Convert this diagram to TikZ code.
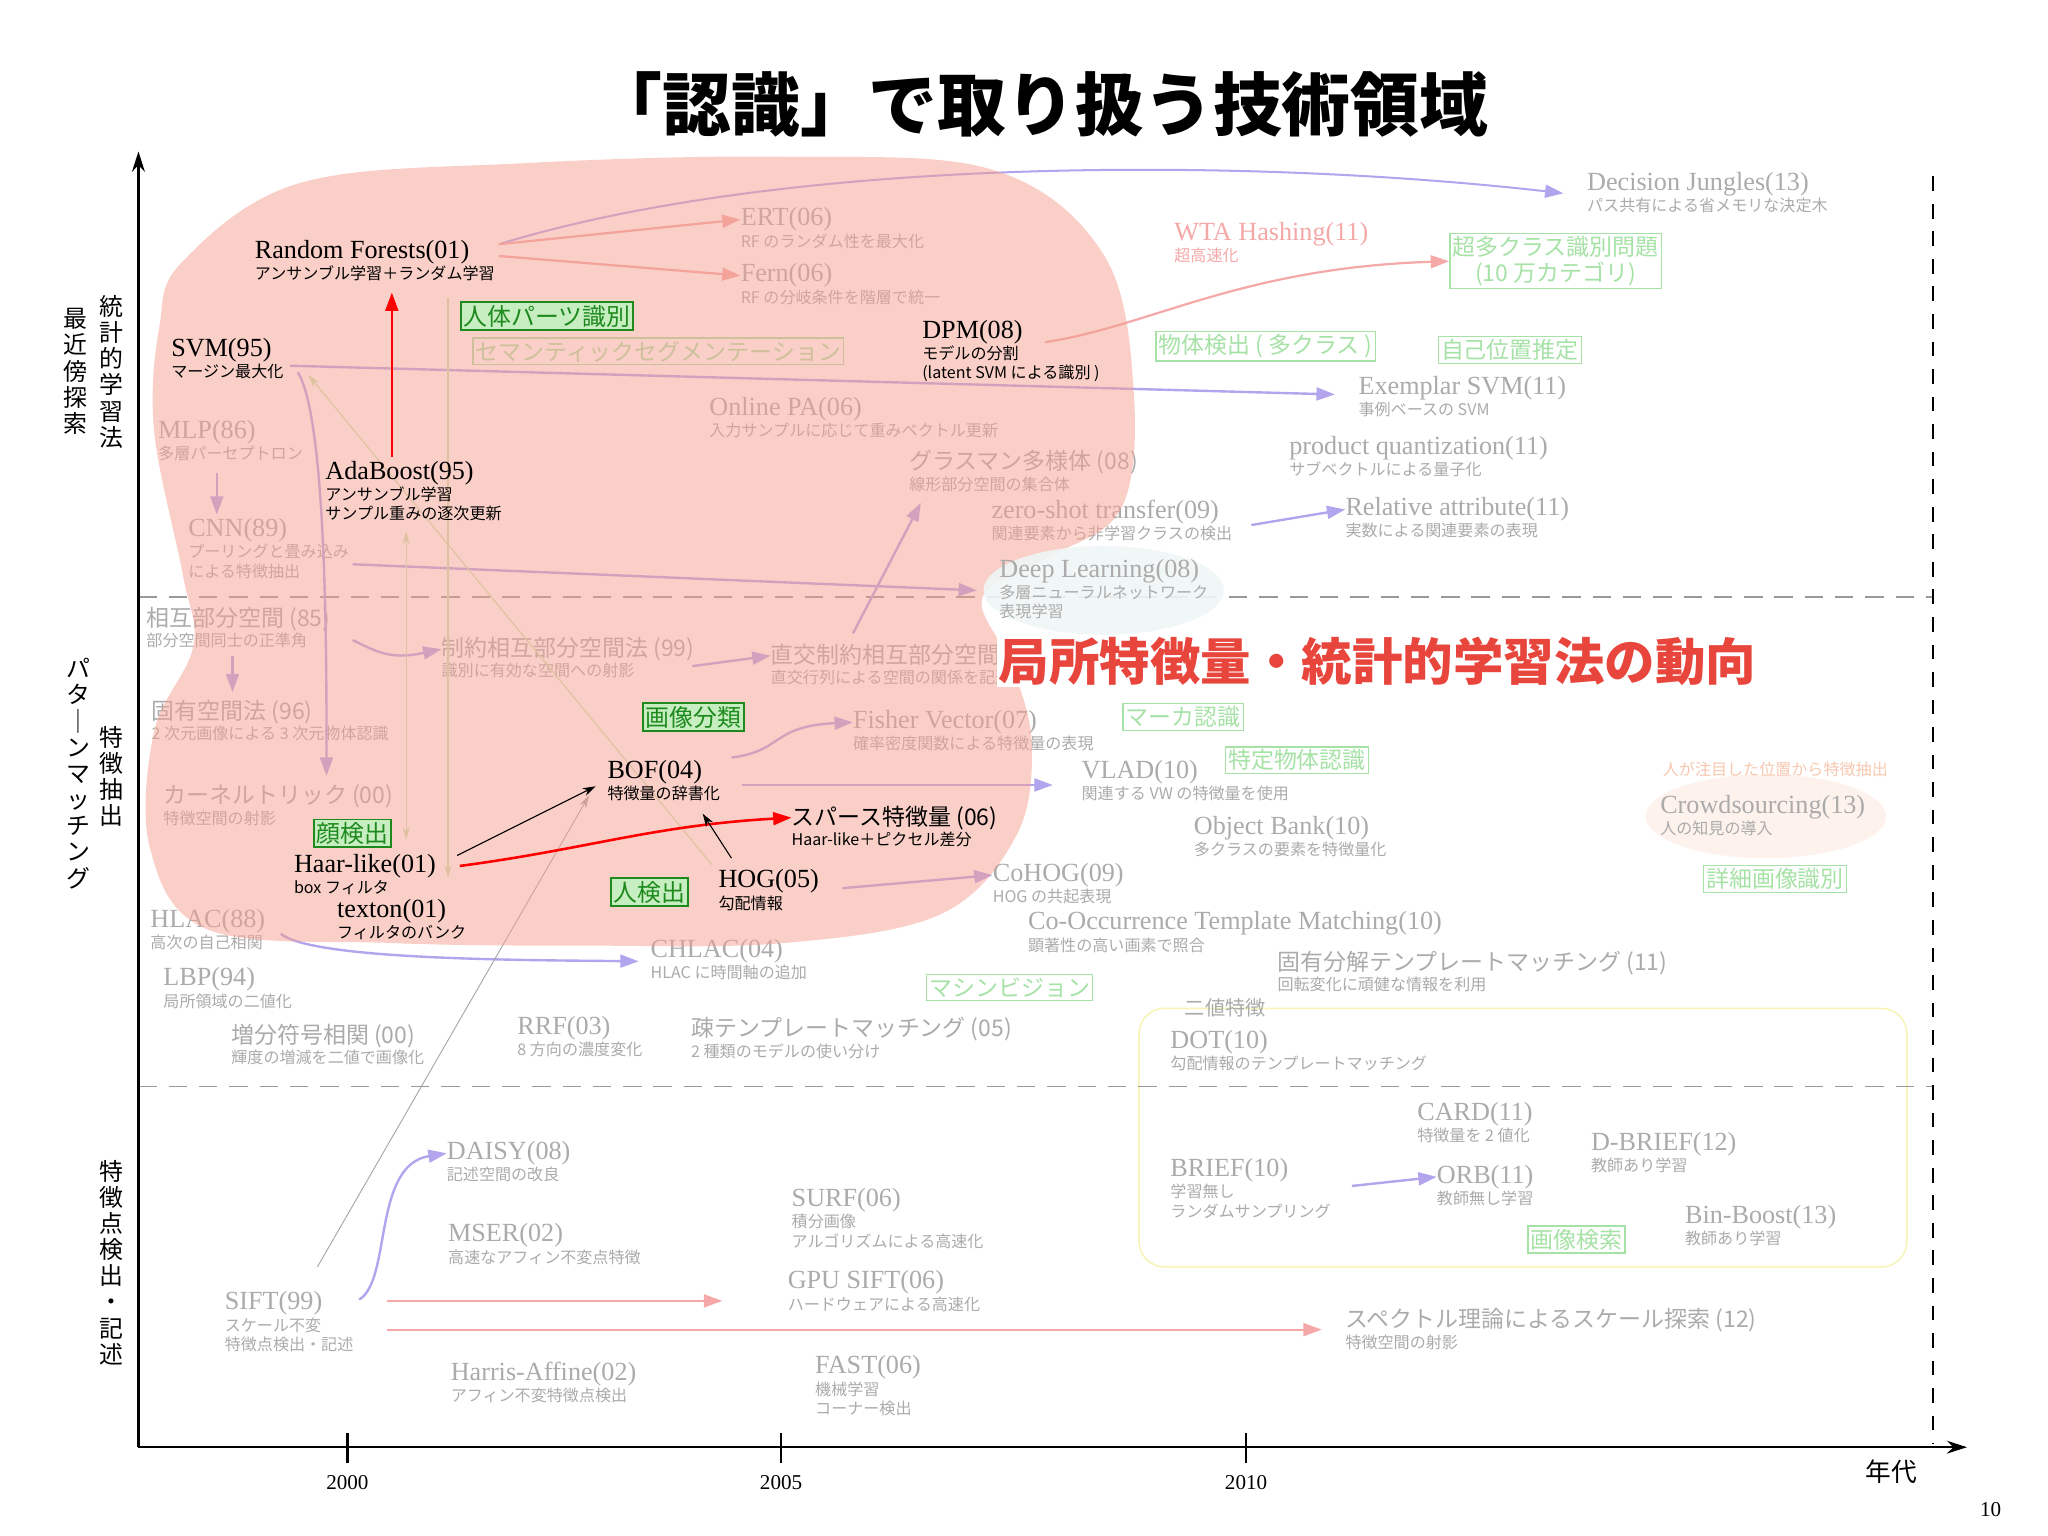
\documentclass[tikz,border=0pt]{standalone}
\usepackage{fontspec}
\setmainfont{Liberation Serif}
\newfontfamily\cjk{Noto Sans CJK JP}
\newcommand\cjm{\cjk\fontsize{25}{28}\selectfont}
\usetikzlibrary{arrows.meta}
\definecolor{gry}{HTML}{ABABAB}
\definecolor{pinkl}{HTML}{F5A8A8}
\definecolor{purp}{HTML}{B3A4EE}
\definecolor{lgreen}{HTML}{A6E2A6}
\definecolor{dgreen}{HTML}{1E8A1E}
\definecolor{dfill}{HTML}{C6EEC0}
\definecolor{redt}{HTML}{E8453C}
\definecolor{blob}{HTML}{F4A090}
\definecolor{ggreen}{HTML}{C8E6B0}
\definecolor{ybox}{HTML}{F8F4B4}
\definecolor{peach}{HTML}{FDF2EC}
\definecolor{peacht}{HTML}{F8C8B0}
\definecolor{glowb}{HTML}{F0F6F6}
\tikzset{
 mainlbl/.style={anchor=west,inner sep=0pt,font=\fontsize{28.5}{30}\selectfont},
 sublbl/.style={anchor=north west,inner sep=0pt,align=left,font=\cjk\fontsize{17.5}{21}\selectfont},
 lbox/.style={draw=lgreen,text=lgreen,line width=1.6pt,inner sep=3pt,font=\cjk\fontsize{25}{28}\selectfont,align=center},
 dbox/.style={draw=dgreen,fill=dfill,text=dgreen,line width=2pt,inner sep=3pt,font=\cjk\fontsize{26}{28}\selectfont},
 parr/.style={draw=purp,line width=2.6pt,-{Triangle[length=20pt,width=14pt]}},
 pkarr/.style={draw=pinkl,line width=2.4pt,-{Triangle[length=20pt,width=14pt]}},
 redarr/.style={draw=red,line width=2.8pt,-{Triangle[length=20pt,width=14pt]}},
 blkarr/.style={draw=black,line width=1.2pt,-{Stealth[length=14pt,width=9pt]}},
 garr/.style={draw=ggreen,line width=1.2pt,-{Stealth[length=14pt,width=8pt]}},
 vtext/.style={align=center,anchor=north,inner sep=0pt,font=\cjk\fontsize{26}{28.5}\selectfont},
}
\newcommand\mylbl[6]{%
 \node[mainlbl,text=#4] (#1) at (#2,#3) {#5};
 \node[sublbl,text=#4] (#1s) at ([yshift=-2pt]#1.south west) {#6};}
\begin{document}
\begin{tikzpicture}[x=0.05cm,y=-0.05cm]
\useasboundingbox[fill=white] (0,0) rectangle (1568,1176);
% title
\node[font=\cjk\bfseries\fontsize{75}{80}\selectfont] (title) at (797,80) {「認識」で取り扱う技術領域};
% yellow box
\draw[draw=ybox,line width=1.6pt,rounded corners=28pt] (872,772) rectangle (1460,970);
% glows
\fill[peach] (1352,625) ellipse (92 and 32);
% dashed lines
\draw[gray!80,line width=1.6pt,dash pattern=on 20pt off 13pt] (106,457) -- (1480,457);
\draw[gray!80,line width=1.6pt,dash pattern=on 20pt off 13pt] (106,832) -- (1480,832);
\draw[black,line width=2.4pt,dash pattern=on 16pt off 14pt] (1480,135) -- (1480,1105);
% gray labels
\mylbl{ert}{567}{168}{gry}{ERT(06)}{RF のランダム性を最大化}
\mylbl{fern}{567}{211}{gry}{Fern(06)}{RF の分岐条件を階層で統一}
\mylbl{dj}{1215}{141}{gry}{Decision Jungles(13)}{パス共有による省メモリな決定木}
\mylbl{wta}{899}{179}{pinkl}{WTA Hashing(11)}{超高速化}
\mylbl{esvm}{1040}{297}{gry}{Exemplar SVM(11)}{事例ベースの SVM}
\mylbl{pq}{987}{343}{gry}{product quantization(11)}{サブベクトルによる量子化}
\mylbl{ra}{1030}{390}{gry}{Relative attribute(11)}{実数による関連要素の表現}
\mylbl{opa}{543}{313}{gry}{Online PA(06)}{入力サンプルに応じて重みベクトル更新}
\mylbl{gras}{696}{354}{gry}{{\cjm グラスマン多様体 (08)}}{線形部分空間の集合体}
\mylbl{zst}{759}{392}{gry}{zero-shot transfer(09)}{関連要素から非学習クラスの検出}
\mylbl{mlp}{121}{331}{gry}{MLP(86)}{多層パーセプトロン}
\mylbl{cnn}{144}{406}{gry}{CNN(89)}{プーリングと畳み込み\\による特徴抽出}
\mylbl{msm}{112}{474}{gry}{{\cjm 相互部分空間 (85)}}{部分空間同士の正準角}
\mylbl{cmsm}{338}{497}{gry}{{\cjm 制約相互部分空間法 (99)}}{識別に有効な空間への射影}
\mylbl{ocmsm}{590}{502}{gry}{{\cjm 直交制約相互部分空間法 (07)}}{直交行列による空間の関係を記述}
\mylbl{eig}{116}{545}{gry}{{\cjm 固有空間法 (96)}}{2 次元画像による 3 次元物体認識}
\mylbl{kt}{125}{610}{gry}{{\cjm カーネルトリック (00)}}{特徴空間の射影}
\mylbl{fv}{653}{553}{gry}{Fisher Vector(07)}{確率密度関数による特徴量の表現}
\mylbl{vlad}{828}{591}{gry}{VLAD(10)}{関連する VW の特徴量を使用}
\mylbl{ob}{914}{634}{gry}{Object Bank(10)}{多クラスの要素を特徴量化}
\mylbl{cohog}{760}{670}{gry}{CoHOG(09)}{HOG の共起表現}
\mylbl{cotm}{787}{707}{gry}{Co-Occurrence Template Matching(10)}{顕著性の高い画素で照合}
\mylbl{edtm}{978}{737}{gry}{{\cjm 固有分解テンプレートマッチング (11)}}{回転変化に頑健な情報を利用}
\mylbl{hlac}{115}{705}{gry}{HLAC(88)}{高次の自己相関}
\mylbl{chlac}{498}{728}{gry}{CHLAC(04)}{HLAC に時間軸の追加}
\mylbl{lbp}{125}{750}{gry}{LBP(94)}{局所領域の二値化}
\mylbl{isc}{177}{793}{gry}{{\cjm 増分符号相関 (00)}}{輝度の増減を二値で画像化}
\mylbl{rrf}{396}{787}{gry}{RRF(03)}{8 方向の濃度変化}
\mylbl{stm}{529}{788}{gry}{{\cjm 疎テンプレートマッチング (05)}}{2 種類のモデルの使い分け}
\node[mainlbl,text=gry,font=\cjk\fontsize{22}{26}\selectfont] (bin) at (907,772) {二値特徴};
\mylbl{dot}{896}{798}{gry}{DOT(10)}{勾配情報のテンプレートマッチング}
\node[sublbl,anchor=west,text=peacht] (crowdn) at (1273,589) {人が注目した位置から特徴抽出};
\mylbl{crowd}{1271}{618}{gry}{Crowdsourcing(13)}{人の知見の導入}
\mylbl{card}{1085}{853}{gry}{CARD(11)}{特徴量を 2 値化}
\mylbl{dbrief}{1218}{876}{gry}{D-BRIEF(12)}{教師あり学習}
\mylbl{brief}{896}{896}{gry}{BRIEF(10)}{学習無し\\ランダムサンプリング}
\mylbl{orb}{1100}{901}{gry}{ORB(11)}{教師無し学習}
\mylbl{binb}{1290}{932}{gry}{Bin-Boost(13)}{教師あり学習}
\mylbl{daisy}{342}{883}{gry}{DAISY(08)}{記述空間の改良}
\mylbl{surf}{606}{919}{gry}{SURF(06)}{積分画像\\アルゴリズムによる高速化}
\mylbl{mser}{343}{946}{gry}{MSER(02)}{高速なアフィン不変点特徴}
\mylbl{gsift}{603}{982}{gry}{GPU SIFT(06)}{ハードウェアによる高速化}
\mylbl{sift}{172}{998}{gry}{SIFT(99)}{スケール不変\\特徴点検出・記述}
\mylbl{spec}{1030}{1011}{gry}{{\cjm スペクトル理論によるスケール探索 (12)}}{特徴空間の射影}
\mylbl{harris}{345}{1052}{gry}{Harris-Affine(02)}{アフィン不変特徴点検出}
\mylbl{fast}{624}{1047}{gry}{FAST(06)}{機械学習\\コーナー検出}
% light boxes
\node[lbox] (b1) at (1191,200) {超多クラス識別問題\\(10 万カテゴリ)};
\node[lbox] (b2) at (969,265) {物体検出 ( 多クラス )};
\node[lbox] (b3) at (1156,268) {自己位置推定};
\node[lbox] (b4) at (504,269) {セマンティックセグメンテーション};
\node[lbox] (b5) at (906,549) {マーカ認識};
\node[lbox] (b6) at (993,582) {特定物体認識};
\node[lbox] (b7) at (1359,673) {詳細画像識別};
\node[lbox] (b8) at (773,756) {マシンビジョン};
\node[lbox] (b9) at (1207,949) {画像検索};
% arrows (light)
\draw[draw=purp,line width=2.2pt,-{Triangle[length=20pt,width=14pt]}] (382,187) .. controls (600,120) and (950,120) .. (1197,148);
\draw[pkarr] (382,187) -- (ert.west);
\draw[pkarr] (382,196) -- (fern.west);
\draw[pkarr] (800,262) .. controls (880,250) and (950,205) .. (b1.west);
\draw[parr] (222,280) -- (1022,302);
\draw[parr] (228,285) .. controls (250,320) and (250,500) .. (250,594);
\draw[parr] (166,362) -- (166,394);
\draw[parr] (270,432) -- (748,452);
\draw[parr] (178,502) -- (178,530);
\draw[parr] (270,490) .. controls (290,500) and (300,505) .. (cmsm.west);
\draw[parr] (530,510) -- (ocmsm.west);
\draw[parr] (653,485) -- (705,385);
\draw[parr] (958,402) -- (ra.west);
\draw[parr] (560,580) .. controls (600,575) and (590,556) .. (fv.west);
\draw[parr] (568,601) -- (806,601);
\draw[parr] (645,680) -- (cohog.west);
\draw[parr] (215,715) .. controls (240,735) and (400,735) .. (489,736);
\draw[parr] (1035,908) -- (orb.west);
\draw[parr] (275,995) .. controls (300,980) and (285,892) .. (daisy.west);
\draw[pkarr] (296,996) -- (553,996);
\draw[pkarr] (296,1018) -- (1012,1018);
\draw[draw=gray!70,line width=1pt,-{Stealth[length=14pt,width=8pt]}] (243,970) -- (451,609);
\draw[garr,{Stealth[length=14pt,width=8pt]}-{Stealth[length=14pt,width=8pt]}] (311,407) -- (311,643);
\draw[garr] (343,228) -- (343,672);
\draw[garr] (545,662) -- (236,287);
% blob
\fill[blob,opacity=0.5] plot[smooth cycle,tension=0.6] coordinates {(140,200) (230,140) (400,125) (600,120) (760,130) (845,195) (868,300) (858,390) (800,428) (752,458) (775,510) (790,570) (778,640) (720,700) (600,722) (450,724) (300,722) (160,712) (115,650) (118,560) (148,495) (140,440) (118,330) (122,250)};
\fill[glowb,opacity=0.9] (845,452) ellipse (92 and 34);
\mylbl{dl}{765}{437}{gry}{Deep Learning(08)}{多層ニューラルネットワーク\\表現学習}
% dark boxes
\node[dbox] (d1) at (419,242) {人体パーツ識別};
\node[dbox] (d2) at (531,549) {画像分類};
\node[dbox] (d3) at (270,638) {顔検出};
\node[dbox] (d4) at (497,683) {人検出};
% black labels
\mylbl{rf}{195}{193}{black}{Random Forests(01)}{アンサンブル学習＋ランダム学習}
\mylbl{svm}{131}{268}{black}{SVM(95)}{マージン最大化}
\mylbl{ada}{249}{362}{black}{AdaBoost(95)}{アンサンブル学習\\サンプル重みの逐次更新}
\mylbl{dpm}{706}{254}{black}{DPM(08)}{モデルの分割\\(latent SVM による識別 )}
\mylbl{bof}{465}{591}{black}{BOF(04)}{特徴量の辞書化}
\mylbl{sparse}{606}{626}{black}{{\cjm スパース特徴量 (06)}}{Haar-like＋ピクセル差分}
\mylbl{haar}{225}{663}{black}{Haar-like(01)}{box フィルタ}
\mylbl{texton}{258}{698}{black}{texton(01)}{フィルタのバンク}
\mylbl{hog}{550}{675}{black}{HOG(05)}{勾配情報}
% strong arrows
\draw[redarr] (300,350) -- (300,224);
\draw[redarr] (352,663) .. controls (450,650) and (500,632) .. (sparse.west);
\draw[blkarr] (350,655) -- (456,602);
\draw[blkarr] (560,657) -- (538,623);
% red title
\node[fill=white,inner sep=2pt,text=redt,font=\cjk\bfseries\fontsize{55}{58}\selectfont,anchor=west] (rt) at (763,506) {局所特徴量・統計的学習法の動向};
% axes
\draw[line width=2.4pt,-{Stealth[length=22pt,width=14pt]}] (106,1108) -- (106,116);
\draw[line width=2.4pt,-{Stealth[length=22pt,width=14pt]}] (106,1108) -- (1506,1108);
\foreach \xx/\yr in {266/2000,598/2005,954/2010}{
 \draw[line width=2.4pt] (\xx,1097) -- (\xx,1120);
 \node[font=\fontsize{23}{24}\selectfont] (yr\yr) at (\xx,1135) {\yr};}
\node[font=\cjk\fontsize{28}{30}\selectfont] (nendai) at (1448,1127) {年代};
\node[font=\fontsize{23}{24}\selectfont] (pg) at (1524,1156) {10};
% vertical axis labels
\node[vtext] (v1) at (85,226) {統\\計\\的\\学\\習\\法};
\node[vtext] (v2) at (58,236) {最\\近\\傍\\探\\索};
\node[vtext] (v3) at (85,556) {特\\徴\\抽\\出};
\node[vtext] (v4) at (60,504) {パ\\タ\\｜\\ン\\マ\\ッ\\チ\\ン\\グ};
\node[vtext] (v5) at (85,888) {特\\徴\\点\\検\\出\\・\\記\\述};
\end{tikzpicture}
\end{document}
